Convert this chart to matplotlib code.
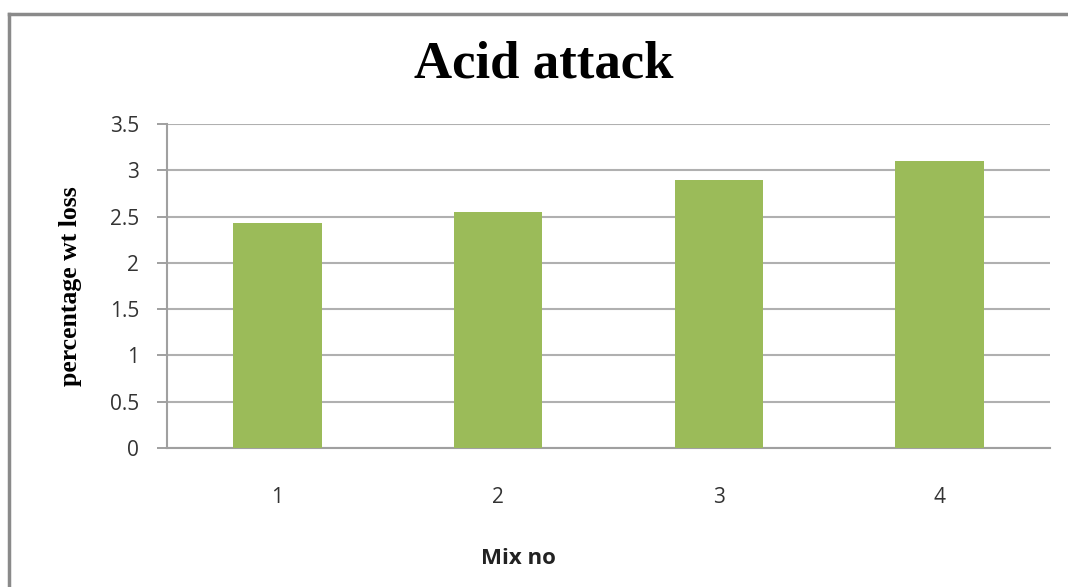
import matplotlib.pyplot as plt
from matplotlib.lines import Line2D

mixes = ["1", "2", "3", "4"]
wt_loss = [2.43, 2.55, 2.90, 3.10]
yticks = [0, 0.5, 1, 1.5, 2, 2.5, 3, 3.5]

fig = plt.figure(figsize=(10.68, 5.87), dpi=100)
ax = fig.add_axes([167/1068, 1 - 448/587, (1050 - 167)/1068, (448 - 124)/587])

xpos = range(len(mixes))
ax.bar(xpos, wt_loss, width=0.4, color="#9bbb59", zorder=3)

ax.set_xlim(-0.5, len(mixes) - 0.5)
ax.set_ylim(0, 3.5)
ax.set_yticks(yticks)
ax.set_yticklabels([f"{t:g}" for t in yticks], fontsize=15, family="Open Sans", color="#333333")
ax.set_xticks(list(xpos))
ax.set_xticklabels(mixes, fontsize=15, family="Open Sans", color="#333333")
ax.tick_params(axis="y", length=7, width=1.3, color="#999999", pad=13)
ax.tick_params(axis="x", length=0, pad=28)

ax.grid(axis="y", color="#b0b0b0", linewidth=1.5, zorder=0)
for s in ["top", "right"]:
    ax.spines[s].set_visible(False)
for s in ["left", "bottom"]:
    ax.spines[s].set_color("#a0a0a0")
    ax.spines[s].set_linewidth(1.5)

fig.text(544/1068, 1 - 64/587, "Acid attack", ha="center", va="center",
         fontsize=38, fontweight="bold", family="Liberation Serif")
fig.text(70/1068, 1 - 286/587, "percentage wt loss", ha="center", va="center",
         rotation=90, fontsize=18.5, fontweight="bold", family="Liberation Serif")
fig.text(518/1068, 1 - 559/587, "Mix no", ha="center", va="center",
         fontsize=16, fontweight="bold", family="Open Sans", color="#222222")

# outer chart frame (left and top edges visible)
fig.add_artist(Line2D([9/1068, 9/1068], [0, 1 - 14/587], transform=fig.transFigure,
                      color="#8a8a8a", linewidth=2.5))
fig.add_artist(Line2D([9/1068, 1], [1 - 14/587, 1 - 14/587], transform=fig.transFigure,
                      color="#8a8a8a", linewidth=2.5))

fig.savefig("out.png", dpi=100)
